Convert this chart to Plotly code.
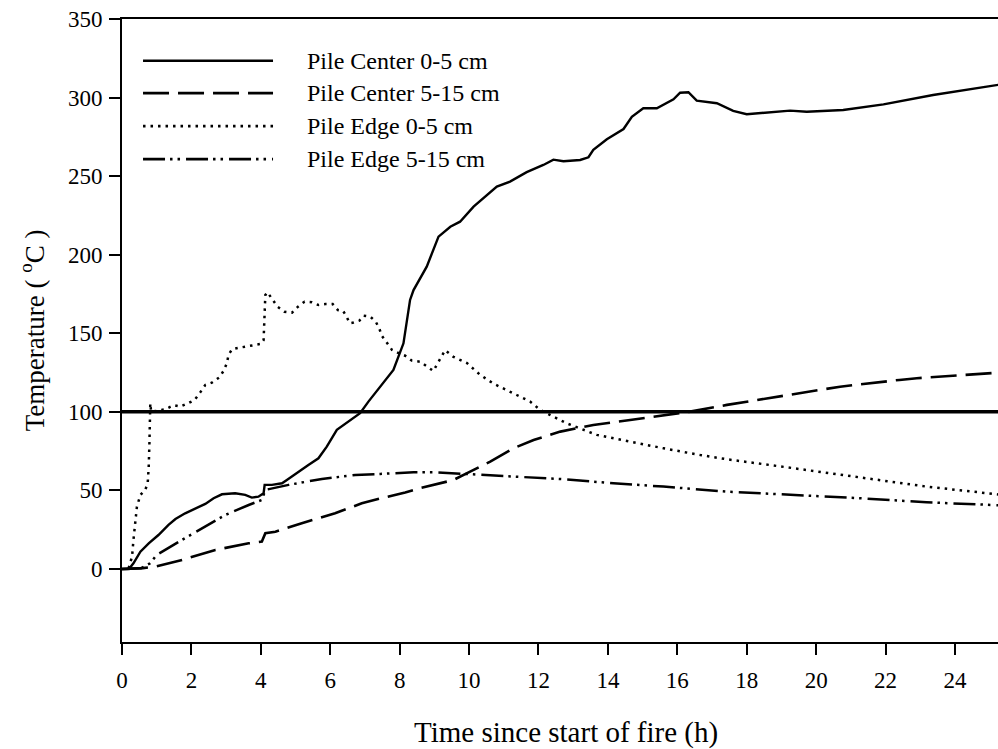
import plotly.graph_objects as go

# Soil temperature under a burning slash pile (hours since ignition, deg C)
center_0_5_t = [0, 0.2, 0.33, 0.53, 0.77, 1.05, 1.34, 1.54, 1.82, 2.11, 2.4, 2.64, 2.88, 3.26,
                3.55, 3.74, 3.93, 4.08, 4.11, 4.32, 4.61, 4.75, 5.04, 5.37, 5.66, 5.9, 6.19,
                6.52, 6.86, 7.1, 7.44, 7.82, 8.11, 8.3, 8.4, 8.78, 9.12, 9.46, 9.74, 10.13,
                10.8, 11.18, 11.66, 12.14, 12.43, 12.72, 13.2, 13.44, 13.58, 13.97, 14.45,
                14.69, 15.02, 15.41, 15.89, 16.08, 16.32, 16.56, 17.14, 17.61, 18.0, 18.77,
                19.25, 19.73, 20.78, 21.94, 23.37, 25.3]
center_0_5_T = [0, 0, 3.6, 11, 16.3, 21.6, 28, 31.8, 35.4, 38.6, 41.4, 45, 47.5, 48.2,
                47.1, 45.4, 46, 48.2, 53.5, 53.5, 54.5, 56.6, 61.3, 66.2, 70.4, 77.8, 88.5,
                93.7, 99.1, 106.5, 116, 126.6, 143.6, 171.2, 177.5, 192.4, 211.5, 217.8, 221,
                230.6, 243.3, 246.5, 252.5, 257.1, 260.5, 259.5, 260.3, 262, 266.7, 273.5,
                280, 287.8, 293.2, 293.2, 298.9, 303.1, 303.4, 298, 296.4, 291.5, 289.4,
                290.6, 291.7, 291, 292.1, 295.7, 301.6, 308.3]

center_5_15_t = [0, 0.6, 0.96, 1.73, 2.69, 3.65, 4.03, 4.13, 4.42, 5.18, 6.14, 6.91, 7.58,
                 8.16, 8.59, 9.55, 10.03, 10.61, 11.28, 11.86, 12.63, 13.58, 14.64, 15.6,
                 16.37, 17.43, 18.58, 19.54, 20.69, 22.4, 22.9, 25.3]
center_5_15_T = [0, 0.5, 1.5, 5.7, 12.1, 16.3, 17.4, 22.7, 23.7, 29.1, 35.4, 41.8, 45.6,
                 48.6, 51.4, 56.6, 61.9, 68.3, 76.8, 82.1, 87.4, 91.6, 94.8, 98,
                 100.1, 104.4, 108.6, 112.2, 116, 120.3, 121.4, 125]

edge_0_5_t = [0.19, 0.29, 0.33, 0.38, 0.43, 0.53, 0.67, 0.74, 0.77, 0.79, 0.815, 0.84, 1.25,
              1.49, 1.68, 1.9, 2.09, 2.25, 2.4, 2.59, 2.81, 2.93, 3.02, 3.07, 3.17, 3.38,
              3.58, 3.79, 4.0, 4.08, 4.10, 4.11, 4.13, 4.19, 4.32, 4.48, 4.68, 4.9, 5.07,
              5.26, 5.47, 5.66, 5.86, 6.07, 6.22, 6.37, 6.46, 6.56, 6.67, 6.84, 6.96, 7.15,
              7.31, 7.41, 7.49, 7.63, 7.78, 7.97, 8.16, 8.35, 8.59, 8.97, 9.31, 9.55, 9.94,
              10.32, 10.7, 11.37, 11.76, 12.05, 12.81, 13.68, 14.64, 15.6, 16.66, 17.43,
              19.35, 21.27, 23.18, 25.3]
edge_0_5_T = [0.4, 7.8, 18.5, 31.2, 39.6, 47.1, 50.3, 54.5, 65.1, 80, 105.4, 100, 101.6,
              104.2, 103.3, 105.4, 107.5, 112.2, 117.1, 118.6, 122, 126.2, 130.9, 136.2,
              139.8, 140.8, 141.5, 142.1, 143.2, 145.7, 154.2, 164.8, 174.4, 176.1, 171.6,
              166.9, 163.7, 163.1, 166.9, 170.1, 169.7, 168, 168.6, 168.6, 164.8, 164.2, 161,
              156.4, 156.8, 158, 161.2, 160.6, 157.4, 153.2, 148.3, 144, 139.4, 137.3,
              135.7, 132.6, 131.9, 126, 139.2, 135, 131, 123.5, 118, 110.7, 106.5, 101.2,
              92.7, 85.3, 81, 76.8, 72.5, 69.8, 64.1, 58.4, 52.4, 47.3]

edge_5_15_t = [0, 0.55, 0.81, 1.0, 1.73, 2.4, 2.98, 3.65, 4.03, 4.13, 4.8, 5.76, 6.72, 7.44,
               8.06, 8.4, 9.0, 9.84, 11.28, 12.72, 14.16, 15.6, 17.43, 19.35, 21.27, 23.18,
               25.3]
edge_5_15_T = [0, 0.5, 3.6, 8.9, 18.5, 26.9, 34.4, 40.7, 43.9, 50.3, 53.5, 57.3, 59.8, 60.5,
               61.3, 61.5, 61.5, 60.5, 58.7, 57.1, 54.5, 52.4, 49.2, 47.1, 45, 42.4, 40.5]

series_names = ["Pile Center 0-5 cm", "Pile Center 5-15 cm", "Pile Edge 0-5 cm",
                "Pile Edge 5-15 cm"]
boiling_point = 100

x_ticks = list(range(0, 25, 2))
y_ticks = list(range(0, 351, 50))

FONT = "Liberation Serif, Times New Roman, serif"
dashes = ["solid", "26px,9px", "2.5px,5px", "22px,5px,2.5px,5px,2.5px,6px"]
widths = [2.4, 2.6, 2.5, 2.5]

fig = go.Figure()
data = [(center_0_5_t, center_0_5_T), (center_5_15_t, center_5_15_T),
        (edge_0_5_t, edge_0_5_T), (edge_5_15_t, edge_5_15_T)]
for (t, T), name, dash, w in zip(data, series_names, dashes, widths):
    fig.add_trace(go.Scatter(x=t, y=T, mode="lines", name=name,
                             line=dict(color="black", width=w, dash=dash),
                             showlegend=False))

# 100 degC reference line
fig.add_shape(type="line", xref="paper", yref="y", x0=0, x1=1,
              y0=boiling_point, y1=boiling_point,
              line=dict(color="black", width=3.5))

# hand-built legend box in the upper-left corner
leg_y = [0.933, 0.881, 0.828, 0.775]
for name, dash, w, yy in zip(series_names, dashes, widths, leg_y):
    fig.add_shape(type="line", xref="paper", yref="paper", x0=0.024, x1=0.1724,
                  y0=yy, y1=yy, line=dict(color="black", width=w + 0.3, dash=dash))
    fig.add_annotation(xref="paper", yref="paper", x=0.2089, y=yy, text=name,
                       showarrow=False, xanchor="left", yanchor="middle",
                       font=dict(family=FONT, size=24, color="black"))

fig.add_annotation(xref="paper", yref="paper", x=-0.103, y=0.5, textangle=-90,
                   text="Temperature ( <sup>o</sup>C )", showarrow=False,
                   xanchor="center", yanchor="middle",
                   font=dict(family=FONT, size=27, color="black"))
fig.add_annotation(xref="paper", yref="paper", x=0.507, y=-0.146,
                   text="Time since start of fire (h)", showarrow=False,
                   xanchor="center", yanchor="middle",
                   font=dict(family=FONT, size=29, color="black"))

fig.update_xaxes(range=[0, 25.24], tickvals=x_ticks, ticks="outside", ticklen=11,
                 tickwidth=2, tickcolor="black", showline=True, linewidth=2,
                 linecolor="black", mirror=True, showgrid=False, zeroline=False,
                 ticklabelstandoff=5,
                 tickfont=dict(family=FONT, size=23, color="black"))
fig.update_yaxes(range=[-46.5, 350], tickvals=y_ticks, ticks="outside", ticklen=11,
                 tickwidth=2, tickcolor="black", showline=True, linewidth=2,
                 linecolor="black", showgrid=False, zeroline=False,
                 ticklabelstandoff=2,
                 tickfont=dict(family=FONT, size=23, color="black"))

fig.update_layout(width=998, height=749, margin=dict(l=122, r=0, t=19, b=107),
                  plot_bgcolor="white", paper_bgcolor="white", showlegend=False)

fig.write_html("out.html")
